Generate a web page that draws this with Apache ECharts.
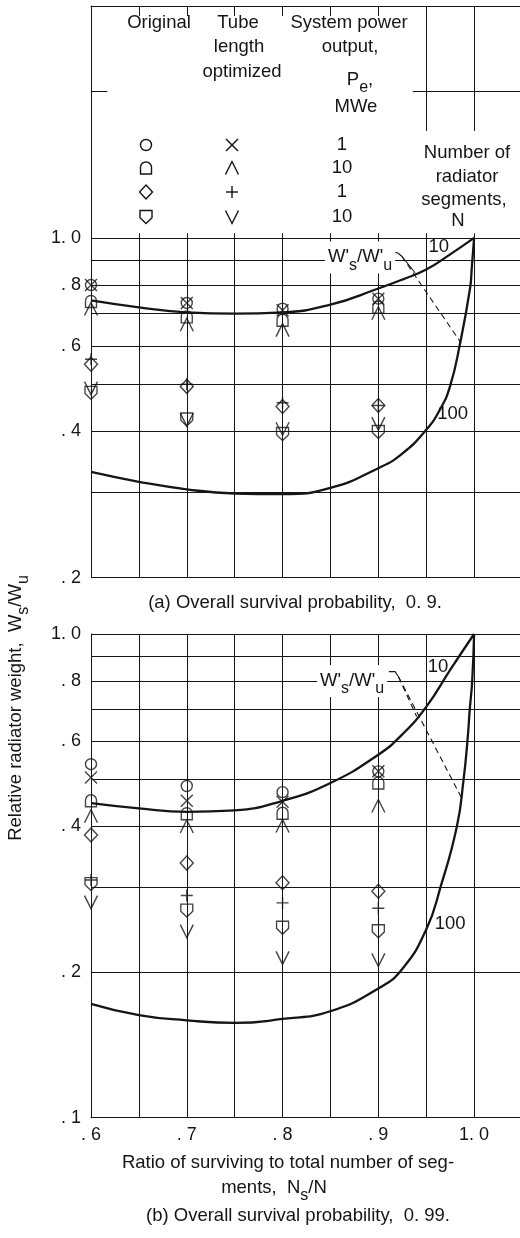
<!DOCTYPE html>
<html>
<head>
<meta charset="utf-8">
<script src="https://cdn.jsdelivr.net/npm/echarts@6/dist/echarts.min.js"></script>
<style>
  html, body { margin: 0; padding: 0; background: #fff; }
  #chart { width: 520px; height: 1238px; }
</style>
</head>
<body>
<div id="chart"></div>
<script>
const FONT = '"Liberation Sans", Arial, Helvetica, sans-serif';
const INK = '#151515';
const FS = 18.5;

// Abscissa: ratio of surviving to total number of segments, Ns/N
const xPoints = [0.6, 0.7, 0.8, 0.9];
const xTickValues = [0.6, 0.7, 0.8, 0.9, 1.0];
const xTickText = ['. 6', '. 7', '. 8', '. 9', '1. 0'];

// Relative radiator weight tick labels
const yTickValuesA = [1.0, 0.8, 0.6, 0.4, 0.2];
const yTickTextA = ['1. 0', '. 8', '. 6', '. 4', '. 2'];
const yTickValuesB = [1.0, 0.8, 0.6, 0.4, 0.2, 0.1];
const yTickTextB = ['1. 0', '. 8', '. 6', '. 4', '. 2', '. 1'];
const yGridA = [0.2, 0.3, 0.4, 0.5, 0.6, 0.7, 0.8, 0.9, 1.0];
const yGridB = [0.2, 0.3, 0.4, 0.5, 0.6, 0.7, 0.8, 0.9, 1.0];

// (a) Overall survival probability 0.9
const aCircle    = [0.800, 0.735, 0.715, 0.750];  // original, 1 MWe
const aCross     = [0.800, 0.735, 0.710, 0.750];  // tube length optimized, 1 MWe
const aArch      = [0.740, 0.688, 0.677, 0.720];  // original, 10 MWe
const aCaretUp   = [0.714, 0.663, 0.646, 0.700];  // tube length optimized, 10 MWe
const aDiamond   = [0.550, 0.495, 0.450, 0.452];  // original, 1 MWe
const aPlus      = [0.563, 0.500, 0.458, 0.452];  // tube length optimized, 1 MWe
const aShield    = [0.480, 0.423, 0.395, 0.399];  // original, 10 MWe
const aCaretDown = [0.491, 0.423, 0.405, 0.415];  // tube length optimized, 10 MWe

// (b) Overall survival probability 0.99
const bCircle    = [0.538, 0.485, 0.471, 0.520];
const bCross     = [0.505, 0.452, 0.450, 0.520];
const bArch      = [0.452, 0.425, 0.426, 0.492];
const bCaretUp   = [0.420, 0.400, 0.401, 0.441];
const bDiamond   = [0.384, 0.336, 0.306, 0.294];
const bPlus      = [0.310, 0.288, 0.278, 0.271];
const bShield    = [0.304, 0.268, 0.247, 0.243];
const bCaretDown = [0.279, 0.243, 0.214, 0.212];

// Ws'/Wu' curves for N = 10 and N = 100 segments
const aCurve10X  = [0.6, 0.65, 0.7, 0.75, 0.8, 0.85, 0.9, 0.925, 0.95, 0.975, 1.0];
const aCurve10Y  = [0.744, 0.720, 0.703, 0.699, 0.703, 0.729, 0.787, 0.821, 0.861, 0.925, 1.0];
const aCurve100X = [0.6, 0.65, 0.7, 0.75, 0.8, 0.85, 0.9, 0.925, 0.95, 0.965, 0.975, 0.985, 0.9958, 0.9976, 1.0];
const aCurve100Y = [0.330, 0.315, 0.304, 0.298, 0.297, 0.306, 0.336, 0.360, 0.403, 0.446, 0.496, 0.602, 0.789, 0.870, 1.0];
const bCurve10X  = [0.6, 0.65, 0.7, 0.75, 0.8, 0.85, 0.9, 0.925, 0.95, 0.975, 1.0];
const bCurve10Y  = [0.447, 0.436, 0.429, 0.432, 0.452, 0.492, 0.563, 0.620, 0.707, 0.843, 1.0];
const bCurve100X = [0.6, 0.65, 0.7, 0.75, 0.8, 0.85, 0.9, 0.925, 0.95, 0.965, 0.982, 0.989, 0.993, 0.9955, 0.998, 1.0];
const bCurve100Y = [0.172, 0.163, 0.159, 0.157, 0.160, 0.166, 0.185, 0.203, 0.245, 0.300, 0.400, 0.500, 0.600, 0.700, 0.800, 1.0];

// Curve captions and leader lines (data units)
const aTag10 = [0.963, 0.958], aTag100 = [0.9775, 0.434], aTagW = [0.881, 0.912];
const bTag10 = [0.9624, 0.855], bTag100 = [0.975, 0.252], bTagW = [0.8726, 0.80];
const aHook = [[0.9123, 0.932], [0.9200, 0.932], [0.9245, 0.917]];
const aLead10 = [[0.9245, 0.917], [0.9384, 0.848]];
const aLead100 = [[0.9245, 0.917], [0.9854, 0.612]];
const bHook = [[0.911, 0.836], [0.9175, 0.836], [0.921, 0.816]];
const bLead10 = [[0.921, 0.816], [0.940, 0.675]];
const bLead100 = [[0.921, 0.816], [0.987, 0.458]];

// Marker shapes (SVG paths in a 20 x 20 box)
const PATHS = {
  arch: 'M0,20L0,9A10,9 0 0 1 20,9L20,20Z',
  diamond: 'M10,0L20,10L10,20L0,10Z',
  shield: 'M0,0L20,0L20,11L10,20L0,11Z',
  cross: 'M0,0L20,20M20,0L0,20',
  caretUp: 'M0,20L10,0L20,20',
  plus: 'M10,0L10,20M0,10L20,10',
  caretDown: 'M0,0L10,20L20,0'
};
// Same shapes as point lists for the legend drawing
const archPts = (() => {
  const p = [[0, 20], [0, 9]];
  for (let k = 1; k < 16; k++) {
    const t = Math.PI - Math.PI * k / 16;
    p.push([10 + 10 * Math.cos(t), 9 - 9 * Math.sin(t)]);
  }
  p.push([20, 9], [20, 20]);
  return p;
})();
const OUTLINES = {
  arch: { closed: true, parts: [archPts] },
  diamond: { closed: true, parts: [[[10, 0], [20, 10], [10, 20], [0, 10]]] },
  shield: { closed: true, parts: [[[0, 0], [20, 0], [20, 11], [10, 20], [0, 11]]] },
  cross: { closed: false, parts: [[[0, 0], [20, 20]], [[20, 0], [0, 20]]] },
  caretUp: { closed: false, parts: [[[0, 20], [10, 0], [20, 20]]] },
  plus: { closed: false, parts: [[[10, 0], [10, 20]], [[0, 10], [20, 10]]] },
  caretDown: { closed: false, parts: [[[0, 0], [10, 20], [20, 0]]] }
};
const SIZE = {
  circle: [11, 11], arch: [11, 12], diamond: [13, 14], shield: [12, 13],
  cross: [12, 12], caretUp: [13, 13], plus: [12, 12], caretDown: [13, 13]
};
const symbolOf = k => (k === 'circle' ? 'circle' : 'path://' + PATHS[k]);

const RICH = {
  m: { fontFamily: FONT, fontSize: FS, fill: INK, color: INK, lineHeight: 32, verticalAlign: 'middle' },
  s: { fontFamily: FONT, fontSize: 16, fill: INK, color: INK, lineHeight: 16, verticalAlign: 'bottom' }
};

function marks(g, shape, values) {
  return {
    type: 'scatter', xAxisIndex: g, yAxisIndex: g, silent: true, z: 4,
    symbol: symbolOf(shape), symbolSize: SIZE[shape],
    itemStyle: { color: 'rgba(0,0,0,0)', borderColor: INK, borderWidth: 1.4 },
    data: xPoints.map((x, i) => [x, values[i]])
  };
}

function curve(g, xs, ys) {
  return {
    type: 'line', xAxisIndex: g, yAxisIndex: g, silent: true, z: 3,
    showSymbol: false, symbol: 'none', smooth: 0.5,
    lineStyle: { color: INK, width: 2.3 },
    data: xs.map((x, i) => [x, ys[i]])
  };
}

function polyline(g, pts, dashed) {
  return {
    type: 'line', xAxisIndex: g, yAxisIndex: g, silent: true, z: 3,
    showSymbol: false, symbol: 'none',
    lineStyle: { color: INK, width: 1.1, type: dashed ? [6, 4] : 'solid' },
    data: pts
  };
}

function tickLabel(text) {
  return { show: true, position: 'start', distance: 10, formatter: text,
           fontFamily: FONT, fontSize: 18, color: INK };
}

const xGridValues = [];
for (let k = 13; k <= 20; k++) xGridValues.push(k / 20);   // 0.65 ... 1.0

// Rules of panel (a): horizontal grid, vertical grid below 1.0, upper frame pieces
function rulesA() {
  const data = [];
  yGridA.forEach(v => {
    const i = yTickValuesA.indexOf(v);
    data.push(i >= 0 ? { yAxis: v, label: tickLabel(yTickTextA[i]) } : { yAxis: v });
  });
  xGridValues.forEach(x => {
    data.push([{ coord: [x, 0.2] }, { coord: [x, 1.0] }]);
    data.push([{ coord: [x, 1.0] }, { coord: [x, 1.022] }]);
  });
  [0.95, 1.0].forEach(x => data.push([{ coord: [x, 1.66] }, { coord: [x, 3] }]));
  data.push([{ coord: [0.6, 2] }, { coord: [0.617, 2] }]);
  data.push([{ coord: [0.936, 2] }, { coord: [1.05, 2] }]);
  return data;
}

function rulesB() {
  return yGridB.map(v => {
    const i = yTickValuesB.indexOf(v);
    return i >= 0 ? { yAxis: v, label: tickLabel(yTickTextB[i]) } : { yAxis: v };
  }).concat([{ yAxis: 0.1, label: tickLabel(yTickTextB[5]), lineStyle: { width: 0 } }]);
}

function ruleSeries(g, data) {
  return {
    type: 'line', xAxisIndex: g, yAxisIndex: g, data: [], silent: true, z: 1,
    markLine: {
      silent: true, symbol: ['none', 'none'], animation: false,
      lineStyle: { color: INK, width: 1, type: 'solid' },
      label: { show: false }, emphasis: { disabled: true },
      data: data
    }
  };
}

// Legend block in the upper part of panel (a)
const legendRowsY = [145, 168, 192, 217];
const legendOriginal = ['circle', 'arch', 'diamond', 'shield'];
const legendOptimized = ['cross', 'caretUp', 'plus', 'caretDown'];
const legendPower = ['1', '10', '1', '10'];

function shapeGraphic(k, cx, cy) {
  const [w, h] = SIZE[k];
  const style = { fill: 'none', stroke: INK, lineWidth: 1.4 };
  if (k === 'circle') return [{ type: 'circle', shape: { cx, cy, r: w / 2 }, style, silent: true }];
  const o = OUTLINES[k];
  return o.parts.map(part => ({
    type: o.closed ? 'polygon' : 'polyline', silent: true, style,
    shape: { points: part.map(([px, py]) => [cx - w / 2 + px / 20 * w, cy - h / 2 + py / 20 * h]) }
  }));
}

function text(str, x, y, extra, styleExtra) {
  return Object.assign({
    type: 'text', x, y, silent: true, z: 100,
    style: Object.assign({
      text: str, fill: INK, fontFamily: FONT, fontSize: FS, rich: RICH,
      align: 'center', verticalAlign: 'middle', textAlign: 'center', textVerticalAlign: 'middle'
    }, styleExtra || {})
  }, extra || {});
}

const graphics = [];
graphics.push(text('Original', 159, 23));
graphics.push(text('Tube', 238, 23), text('length', 239, 47), text('optimized', 242, 72));
graphics.push(text('System power', 349, 23), text('output,', 350, 47),
              text('{m|P}{s|e}{m|,}', 360, 80), text('MWe', 356, 107));
graphics.push(text('Number of', 467, 153), text('radiator', 467, 177),
              text('segments,', 464, 200), text('N', 458, 221));
legendRowsY.forEach((y, i) => {
  graphics.push(...shapeGraphic(legendOriginal[i], 146, y));
  graphics.push(...shapeGraphic(legendOptimized[i], 232, y));
  graphics.push(text(legendPower[i], 342, y));
});
graphics.push(text('(a) Overall survival probability,  0. 9.', 295, 603));
graphics.push(text('Ratio of surviving to total number of seg-', 288, 1163));
graphics.push(text('{m|ments,  N}{s|s}{m|/N}', 274, 1188));
graphics.push(text('(b) Overall survival probability,  0. 99.', 298, 1216));
graphics.push(text('{m|Relative radiator weight,  W}{s|s}{m|/W}{s|u}', 16, 708, { rotation: Math.PI / 2 }));

const W_LABEL = "{m|W'}{s|s}{m|/W'}{s|u}";

const option = {
  animation: false,
  backgroundColor: '#fff',
  grid: [
    { left: 91, top: 6, width: 431, height: 571.7, outerBoundsMode: 'none', containLabel: false },
    { left: 91, top: 634, width: 431, height: 483.7, outerBoundsMode: 'none', containLabel: false }
  ],
  xAxis: [
    {
      gridIndex: 0, type: 'value', min: 0.6, max: 1.05, interval: 0.05, position: 'top',
      axisLine: { show: true, onZero: false, lineStyle: { color: INK, width: 1 } },
      axisTick: { show: true, inside: true, length: 10, lineStyle: { color: INK, width: 1 } },
      axisLabel: { show: false }, splitLine: { show: false }
    },
    {
      gridIndex: 1, type: 'value', min: 0.6, max: 1.05, interval: 0.05, position: 'bottom',
      axisLine: { show: true, onZero: false, lineStyle: { color: INK, width: 1 } },
      axisTick: { show: false },
      axisLabel: {
        show: true, margin: 8, fontFamily: FONT, fontSize: 18, color: INK, hideOverlap: false,
        showMinLabel: true, showMaxLabel: true,
        formatter: v => {
          const i = xTickValues.findIndex(t => Math.abs(t - v) < 1e-6);
          return i >= 0 ? xTickText[i] : '';
        }
      },
      splitLine: { show: true, lineStyle: { color: INK, width: 1 } }
    }
  ],
  yAxis: [
    {
      gridIndex: 0, type: 'log', logBase: 10, min: 0.2, max: 3,
      axisLine: { show: true, onZero: false, lineStyle: { color: INK, width: 1 } },
      axisTick: { show: false }, axisLabel: { show: false }, splitLine: { show: false }, minorTick: { show: false }
    },
    {
      gridIndex: 1, type: 'log', logBase: 10, min: 0.1, max: 1,
      axisLine: { show: true, onZero: false, lineStyle: { color: INK, width: 1 } },
      axisTick: { show: false }, axisLabel: { show: false }, splitLine: { show: false }, minorTick: { show: false }
    }
  ],
  series: [
    ruleSeries(0, rulesA()),
    ruleSeries(1, rulesB()),

    curve(0, aCurve10X, aCurve10Y),
    curve(0, aCurve100X, aCurve100Y),
    curve(1, bCurve10X, bCurve10Y),
    curve(1, bCurve100X, bCurve100Y),

    polyline(0, aHook, false), polyline(0, aLead10, false), polyline(0, aLead100, true),
    polyline(1, bHook, false), polyline(1, bLead10, true), polyline(1, bLead100, true),

    marks(0, 'circle', aCircle), marks(0, 'cross', aCross),
    marks(0, 'arch', aArch), marks(0, 'caretUp', aCaretUp),
    marks(0, 'diamond', aDiamond), marks(0, 'plus', aPlus),
    marks(0, 'shield', aShield), marks(0, 'caretDown', aCaretDown),

    marks(1, 'circle', bCircle), marks(1, 'cross', bCross),
    marks(1, 'arch', bArch), marks(1, 'caretUp', bCaretUp),
    marks(1, 'diamond', bDiamond), marks(1, 'plus', bPlus),
    marks(1, 'shield', bShield), marks(1, 'caretDown', bCaretDown)
  ],
  graphic: graphics
};

const chart = echarts.init(document.getElementById('chart'), null, { renderer: 'canvas' });
chart.setOption(option);

// Curve captions placed through the axes' own scales
const px = (g, p) => chart.convertToPixel({ gridIndex: g }, p);
function captionAt(g, p, str, boxed) {
  const [x, y] = px(g, p);
  return text(str, x, y, null, boxed ? { backgroundColor: '#fff', padding: [0, 3, 0, 3] } : null);
}
chart.setOption({
  graphic: graphics.concat([
    captionAt(0, aTag10, '10'), captionAt(0, aTag100, '100'), captionAt(0, aTagW, W_LABEL, true),
    captionAt(1, bTag10, '10'), captionAt(1, bTag100, '100'), captionAt(1, bTagW, W_LABEL, true)
  ])
}, { replaceMerge: ['graphic'] });
</script>
</body>
</html>
